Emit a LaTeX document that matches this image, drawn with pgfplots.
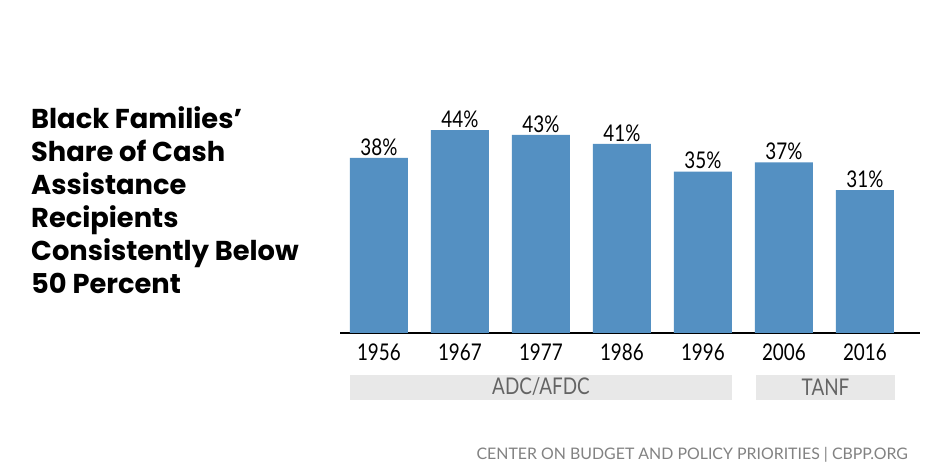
\documentclass[border=0pt]{standalone}
\usepackage{pgfplots}
\pgfplotsset{compat=1.18}
\usepackage{fontspec}
\setmainfont{Lato}
\newfontfamily\cond[FakeStretch=0.82]{Lato}
\newfontfamily\titlefont{Poppins}
\definecolor{barblue}{RGB}{84,144,194}
\definecolor{bandgray}{RGB}{232,232,232}
\definecolor{bandtext}{RGB}{100,100,100}
\definecolor{foot}{RGB}{130,130,130}
\begin{document}
\begin{tikzpicture}[x=1pt,y=1pt]
\path[fill=white,use as bounding box] (0,0) rectangle (940,470);
\begin{axis}[
  at={(340pt,137pt)}, anchor=south west,
  scale only axis, width=580pt, height=230.5pt,
  xmin=-0.48, xmax=6.68, ymin=0, ymax=50,
  axis x line=bottom, axis y line=none,
  x axis line style={line width=1.8pt,-},
  xtick=data, xticklabels={1956,1967,1977,1986,1996,2006,2016},
  xtick style={draw=none},
  xticklabel style={font=\cond\fontsize{23}{23}\selectfont, yshift=-3pt},
  ybar, bar width=58pt,
  /pgf/number format/assume math mode=true,
  nodes near coords={\pgfmathprintnumber{\pgfplotspointmeta}\%},
  every node near coord/.append style={font=\cond\fontsize{23}{23}\selectfont, yshift=-1pt},
  clip=false,
]
\addplot[fill=barblue, draw=none] coordinates {(0,38) (1,44) (2,43) (3,41) (4,35) (5,37) (6,31)};
\end{axis}
\fill[bandgray] (350,70) rectangle (732,95);
\fill[bandgray] (756,70) rectangle (895,95);
\node[font=\cond\fontsize{23}{23}\selectfont, text=bandtext] at (541,83) {ADC/AFDC};
\node[font=\cond\fontsize{23}{23}\selectfont, text=bandtext] at (825.5,83) {TANF};
\node[anchor=north west, align=left, font=\titlefont\bfseries\fontsize{27.3}{33}\selectfont, inner sep=0pt] at (31,364) {Black Families’\\Share of Cash\\Assistance\\Recipients\\Consistently Below\\50 Percent};
\node[anchor=east, font=\fontsize{15.9}{17}\selectfont, text=foot, inner sep=0pt] at (908,15) {CENTER ON BUDGET AND POLICY PRIORITIES | CBPP.ORG};
\end{tikzpicture}
\end{document}
